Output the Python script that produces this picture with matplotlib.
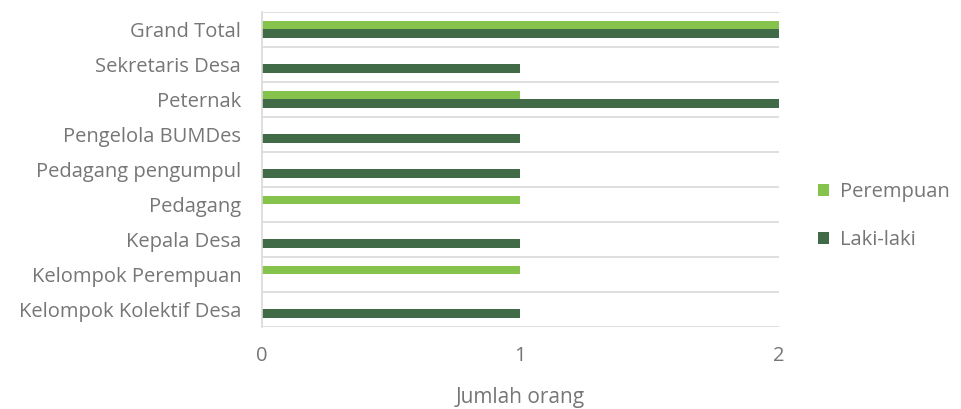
import numpy as np
import matplotlib.pyplot as plt

categories = ["Kelompok Kolektif Desa", "Kelompok Perempuan", "Kepala Desa", "Pedagang",
              "Pedagang pengumpul", "Pengelola BUMDes", "Peternak", "Sekretaris Desa", "Grand Total"]
laki_laki = [1, 0, 1, 0, 1, 1, 2, 1, 2]
perempuan = [0, 1, 0, 1, 0, 0, 1, 0, 2]
x_ticks = [0, 1, 2]

plt.rcParams['font.family'] = ['Open Sans', 'DejaVu Sans']
text_col = '#767676'
light = '#86C34D'
dark = '#416A47'

fig = plt.figure(figsize=(9.61, 4.09), dpi=100)
ax = fig.add_axes([0.2726, 0.2005, 0.5380, 0.7702])

y = np.arange(len(categories))
h = 0.25
ax.barh(y + h / 2, perempuan, height=h, color=light, label='Perempuan')
ax.barh(y - h / 2, laki_laki, height=h, color=dark, label='Laki-laki')

ax.set_xlim(0, 2)
ax.set_ylim(-0.5, len(categories) - 0.5)
ax.set_xticks(x_ticks)
ax.set_xticklabels([str(v) for v in x_ticks])
ax.set_yticks(y)
ax.set_yticklabels(categories)
ax.set_yticks(np.arange(-0.5, len(categories)), minor=True)
ax.grid(which='minor', axis='y', color='#D9D9D9', linewidth=1.2)
ax.tick_params(axis='both', which='both', length=0, colors=text_col, labelsize=14.5)
ax.tick_params(axis='x', pad=14)
ax.tick_params(axis='y', pad=15)
for s in ['top', 'right', 'bottom']:
    ax.spines[s].set_visible(False)
ax.spines['left'].set_color('#D9D9D9')
ax.spines['left'].set_linewidth(1.2)
ax.set_axisbelow(True)

ax.set_xlabel('Jumlah orang', fontsize=15, color=text_col, labelpad=15)

ax.legend(loc='center left', bbox_to_anchor=(1.04, 0.352), frameon=False,
          fontsize=14.5, labelcolor=text_col, handlelength=0.55, handleheight=0.55,
          labelspacing=1.4, handletextpad=0.55)

fig.savefig('out.png', dpi=100)
